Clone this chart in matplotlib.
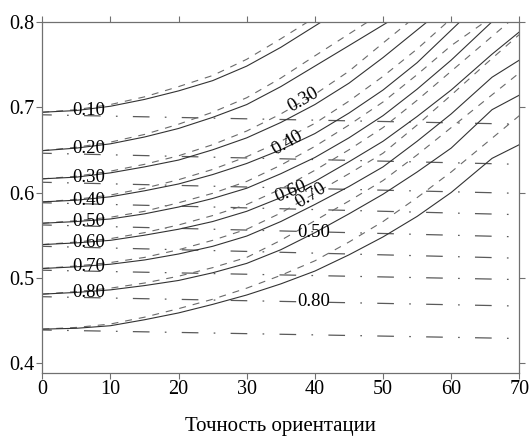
import matplotlib
matplotlib.use("Agg")
import matplotlib.pyplot as plt

plt.rcParams['font.family'] = ['Liberation Serif', 'DejaVu Serif']
plt.rcParams['lines.scale_dashes'] = False

# --- solid curves (levels 0.10 ... 0.80 + unlabeled lowest) ---
grid = [0, 5, 10, 15, 20, 25, 30, 35, 40, 45, 50, 55, 60, 66, 70]
solid_x = [
    [0, 5, 10, 15, 20, 25, 30, 35, 41, 46],
    [0, 5, 10, 15, 20, 25, 30, 35, 40, 45, 50.8, 55],
    [0, 5, 10, 15, 20, 25, 30, 35, 40, 45, 50, 56.5, 60],
    [0, 5, 10, 15, 20, 25, 30, 35, 40, 45, 50, 55, 61.3, 65],
    grid, grid, grid, grid, grid,
]
solid_y = [
    [0.694, 0.696, 0.701, 0.709, 0.719, 0.731, 0.748, 0.770, 0.800, 0.826],
    [0.649, 0.652, 0.657, 0.665, 0.675, 0.688, 0.703, 0.724, 0.748, 0.772, 0.800, 0.822],
    [0.616, 0.618, 0.623, 0.630, 0.638, 0.650, 0.664, 0.682, 0.703, 0.728, 0.758, 0.800, 0.820],
    [0.589, 0.591, 0.595, 0.602, 0.610, 0.621, 0.634, 0.650, 0.669, 0.693, 0.720, 0.752, 0.800, 0.825],
    [0.564, 0.566, 0.569, 0.575, 0.583, 0.593, 0.605, 0.622, 0.641, 0.664, 0.690, 0.721, 0.755, 0.800, 0.825],
    [0.539, 0.541, 0.544, 0.550, 0.557, 0.566, 0.578, 0.594, 0.613, 0.636, 0.660, 0.689, 0.720, 0.762, 0.788],
    [0.511, 0.513, 0.516, 0.521, 0.528, 0.537, 0.549, 0.566, 0.586, 0.607, 0.630, 0.660, 0.692, 0.735, 0.755],
    [0.481, 0.483, 0.486, 0.491, 0.497, 0.506, 0.517, 0.533, 0.553, 0.575, 0.598, 0.624, 0.652, 0.697, 0.714],
    [0.440, 0.441, 0.444, 0.451, 0.459, 0.469, 0.480, 0.493, 0.508, 0.527, 0.548, 0.572, 0.600, 0.640, 0.656],
]
solid_labels = ['0.10', '0.20', '0.30', '0.40', '0.50', '0.60', '0.70', '0.80']

# --- dashed curves ---
dgrid = [0, 5, 10, 15, 20, 25, 30, 35, 40, 45, 50, 55, 60, 65, 70]
dashed_x = [
    [0, 5, 10, 15, 20, 25, 30, 35, 39, 44],
    [0, 5, 10, 15, 20, 25, 30, 35, 40, 48, 53],
    [0, 5, 10, 15, 20, 25, 30, 35, 40, 45, 50, 54, 58],
    [0, 5, 10, 15, 20, 25, 30, 35, 40, 45, 50, 55, 59.5, 64],
    dgrid, dgrid, dgrid, dgrid, dgrid,
]
dashed_y = [
    [0.694, 0.697, 0.703, 0.712, 0.724, 0.737, 0.756, 0.780, 0.800, 0.826],
    [0.649, 0.653, 0.659, 0.668, 0.680, 0.694, 0.711, 0.734, 0.760, 0.801, 0.826],
    [0.616, 0.619, 0.625, 0.633, 0.643, 0.656, 0.672, 0.692, 0.715, 0.742, 0.775, 0.801, 0.826],
    [0.589, 0.592, 0.597, 0.605, 0.615, 0.627, 0.642, 0.660, 0.681, 0.707, 0.736, 0.768, 0.800, 0.826],
    [0.564, 0.567, 0.571, 0.578, 0.588, 0.599, 0.613, 0.632, 0.654, 0.679, 0.706, 0.738, 0.772, 0.800, 0.830],
    [0.539, 0.542, 0.546, 0.553, 0.562, 0.573, 0.586, 0.604, 0.626, 0.650, 0.676, 0.708, 0.742, 0.776, 0.810],
    [0.511, 0.514, 0.518, 0.524, 0.533, 0.544, 0.557, 0.576, 0.599, 0.622, 0.646, 0.679, 0.714, 0.750, 0.785],
    [0.481, 0.484, 0.488, 0.494, 0.502, 0.512, 0.524, 0.544, 0.567, 0.590, 0.614, 0.644, 0.676, 0.708, 0.740],
    [0.440, 0.442, 0.446, 0.454, 0.464, 0.475, 0.488, 0.503, 0.520, 0.542, 0.566, 0.594, 0.624, 0.657, 0.690],
]

# --- dash-dot (nearly horizontal) lines: value at x=0 and x=70 ---
dashdot_x = [0, 70]
dashdot_left = [0.691, 0.646, 0.612, 0.588, 0.562, 0.537, 0.509, 0.478, 0.439]
dashdot_right = [0.680, 0.633, 0.599, 0.574, 0.548, 0.523, 0.498, 0.467, 0.429]

# labels in the middle of the field: text, x, y, rotation
mid_labels = [
    ('0.30', 38.3, 0.708, 30),
    ('0.40', 35.9, 0.658, 30),
    ('0.60', 36.4, 0.601, 22),
    ('0.70', 39.4, 0.597, 32),
    ('0.50', 39.8, 0.553, 0),
    ('0.80', 39.8, 0.472, 0),
]

fig = plt.figure(figsize=(5.31, 4.42), dpi=100)
ax = fig.add_axes([0.0797, 0.1568, 0.8983, 0.7941])

for y0, y1 in zip(dashdot_left, dashdot_right):
    ax.plot(dashdot_x, [y0, y1], color='#5a5a5a', lw=0.9,
            linestyle=(-30, (12, 11, 1.2, 11)))

for xs, ys in zip(dashed_x, dashed_y):
    ax.plot(xs, ys, color='#6a6a6a', lw=0.8, linestyle=(0, (5, 5)))

for xs, ys in zip(solid_x, solid_y):
    ax.plot(xs, ys, color='#333333', lw=0.8)

# left labels sit on the solid lines near x ~ 6.8
for lab, ys in zip(solid_labels, solid_y):
    ax.text(6.8, ys[0] + 0.002, lab, fontsize=13.5, ha='center', va='center',
            color='black')

for lab, x, y, rot in mid_labels:
    ax.text(x, y, lab, fontsize=13.5, ha='center', va='center', rotation=rot,
            color='black')

ax.set_xlim(0, 70)
ax.set_ylim(0.389, 0.8)
ax.set_xticks([0, 10, 20, 30, 40, 50, 60, 70])
ax.set_yticks([0.4, 0.5, 0.6, 0.7, 0.8])
ax.set_yticklabels(['0.4', '0.5', '0.6', '0.7', '0.8'])
ax.tick_params(axis='both', which='both', direction='out', length=4,
               width=0.8, color='#707070', labelsize=14.5, pad=1.5,
               top=True, right=True)
for sp in ax.spines.values():
    sp.set_color('#707070')
    sp.set_linewidth(0.9)

ax.set_xlabel('Точность ориентации', fontsize=15, labelpad=13)

fig.savefig('out.png', dpi=100)
